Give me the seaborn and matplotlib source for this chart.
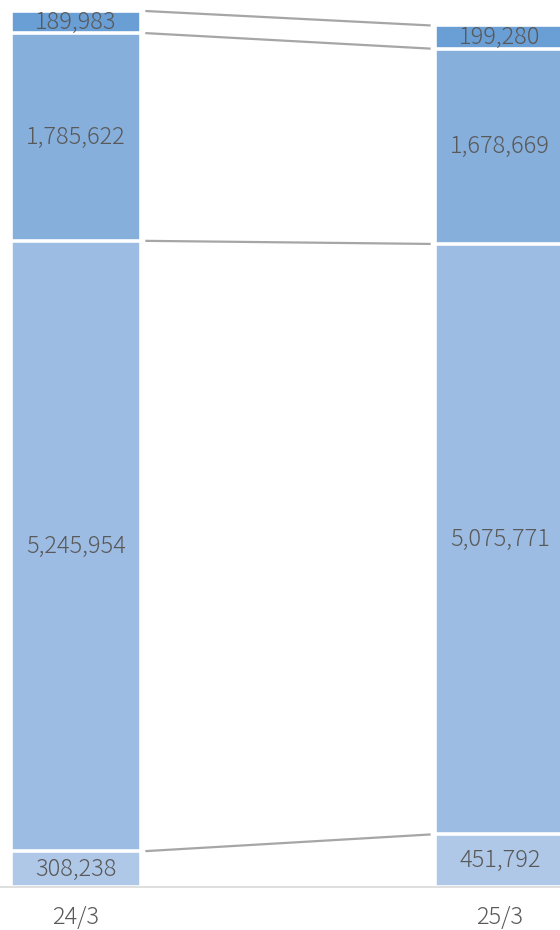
import numpy as np
import pandas as pd
import matplotlib
matplotlib.use("Agg")
import matplotlib.pyplot as plt
import seaborn as sns

# ============================================
# DATA
# ============================================
periods = ["24/3", "25/3"]
seg1 = [308238, 451792]      # bottom
seg2 = [5245954, 5075771]
seg3 = [1785622, 1678669]
seg4 = [189983, 199280]      # top

segments = [seg1, seg2, seg3, seg4]
colors = ["#b0c8e8", "#9dbce3", "#86afdc", "#6a9fd6"]

# ============================================
# STYLE
# ============================================
sns.set_theme(style="white")
plt.rcParams["font.family"] = ["Noto Sans CJK JP", "DejaVu Sans"]
text_color = "#595959"

fig = plt.figure(figsize=(5.6, 9.3), dpi=100)
ax = fig.add_axes([0, 43 / 930, 1, 887 / 930])

cum = np.cumsum(np.array(segments), axis=0)
bar_w = 0.307

# draw cumulative totals largest first so smaller ones overlap
for i in range(len(segments) - 1, -1, -1):
    df = pd.DataFrame({"period": periods, "value": cum[i]})
    sns.barplot(data=df, x="period", y="value", color=colors[i], width=bar_w,
                saturation=1, edgecolor="white", linewidth=2.6, ax=ax)

# value labels
for i, seg in enumerate(segments):
    for j, v in enumerate(seg):
        mid = cum[i][j] - v / 2
        ax.text(j, mid, f"{v:,}", ha="center", va="center",
                fontsize=17, color=text_color, fontweight="light")

# connector lines between segment tops
x0 = bar_w / 2 + 0.01
x1 = 1 - bar_w / 2 - 0.01
for i in range(len(segments)):
    ax.plot([x0, x1], [cum[i][0], cum[i][1]], color="#a6a6a6", lw=1.6,
            solid_capstyle="butt", zorder=3)

ymax = cum[-1][0] * 887 / 876
ax.set_ylim(0, ymax)
ax.set_xlim(-76 / 424, 1 + 60 / 424)

sns.despine(ax=ax, left=True, top=True, right=True)
ax.spines["bottom"].set_color("#d9d9d9")
ax.spines["bottom"].set_linewidth(1.2)
ax.set_yticks([])
ax.set_xlabel("")
ax.set_ylabel("")
ax.tick_params(axis="x", length=0, pad=13, labelsize=17, labelcolor=text_color)
for lbl in ax.get_xticklabels():
    lbl.set_fontweight("light")

fig.savefig("out.png", dpi=100)
